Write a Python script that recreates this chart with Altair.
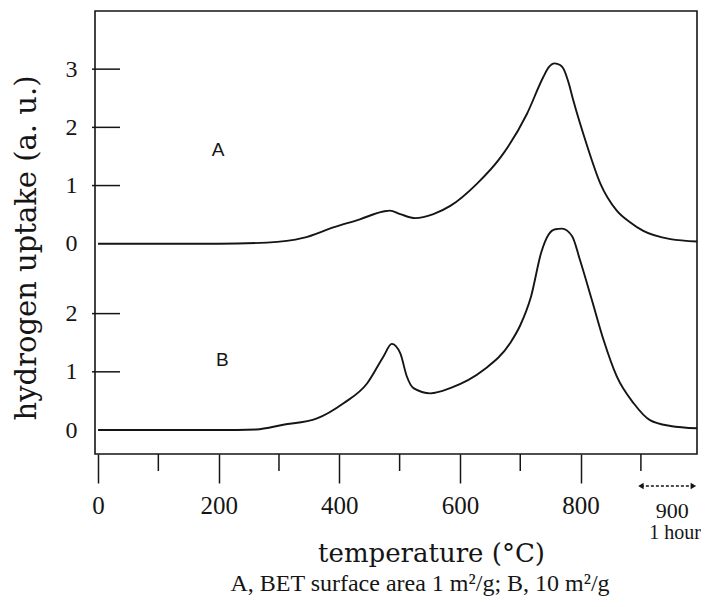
import altair as alt
import pandas as pd

# ---- data ----
temp_A = [0, 100, 200, 280, 340, 390, 434, 473, 484, 501, 526, 556, 584, 628, 667, 711,
          738, 747, 757, 766, 772, 780, 788, 810, 833, 860, 882, 904, 949, 993]
upt_A = [0, 0, 0, 0.02, 0.10, 0.28, 0.42, 0.555, 0.57, 0.51, 0.44, 0.51, 0.65, 1.03, 1.48, 2.23,
         2.86, 3.03, 3.10, 3.07, 3.00, 2.77, 2.46, 1.71, 1.03, 0.57, 0.37, 0.22, 0.08, 0.04]

temp_B = [0, 100, 200, 262, 307, 363, 407, 446, 473, 487, 501, 512, 523, 551, 584, 639, 683,
          700, 718, 735, 747, 758, 769, 786, 799, 818, 838, 860, 888, 915, 949, 993]
upt_B = [0, 0, 0, 0.01, 0.09, 0.20, 0.46, 0.80, 1.26, 1.48, 1.32, 0.92, 0.72, 0.63, 0.72, 1.03, 1.49,
         1.80, 2.30, 3.06, 3.36, 3.45, 3.46, 3.33, 2.92, 2.26, 1.55, 0.92, 0.46, 0.17, 0.07, 0.03]

OFFSET_A = 3.2          # vertical shift of trace A (in uptake units)
ticks_A = [0, 1, 2, 3]
ticks_B = [0, 1, 2]
inner_ticks_A = [1, 2, 3]
inner_ticks_B = [1, 2]

major_x = [0, 200, 400, 600, 800]
minor_x = [100, 300, 500, 700, 900]
hold_range = [900, 987]  # 1 hour hold at 900 °C

curve_names = ["A", "B"]
name_temp = [199, 206]
name_upt = [1.61, 1.20]

# ---- tables ----
rows = []
for t, v in zip(temp_A, upt_A):
    rows.append({"series": "A", "temp": t, "y": v + OFFSET_A})
for t, v in zip(temp_B, upt_B):
    rows.append({"series": "B", "temp": t, "y": v})
df = pd.DataFrame(rows)

yvals = ticks_B + [v + OFFSET_A for v in ticks_A]
df_inner = pd.DataFrame({"y": inner_ticks_B + [v + OFFSET_A for v in inner_ticks_A]})
df_minor = pd.DataFrame({"temp": minor_x})
df_hold = pd.DataFrame({"temp": [hold_range[0]], "temp2": [hold_range[1]]})
df_heads = pd.DataFrame({"temp": hold_range, "shape": ["triangle-left", "triangle-right"]})
mid = (hold_range[0] + hold_range[1]) / 2
df_900 = pd.DataFrame({"temp": [mid], "label": ["900"]})
df_hour = pd.DataFrame({"temp": [mid], "label": ["1 hour"]})
df_names = pd.DataFrame({
    "name": curve_names,
    "temp": name_temp,
    "y": [name_upt[0] + OFFSET_A, name_upt[1]],
})

W, H = 602, 443
INK = "#151515"
xscale = alt.Scale(domain=[-5, 993], nice=False, zero=False)
yscale = alt.Scale(domain=[-0.412, 7.199], nice=False, zero=False)

label_expr = (f"datum.value > {OFFSET_A - 0.5} ? format(datum.value - {OFFSET_A}, 'd')"
              f" : format(datum.value, 'd')")

X = alt.X("temp:Q", scale=xscale,
          axis=alt.Axis(values=major_x, title="temperature (°C)", grid=False, domain=False,
                        tickSize=29, tickWidth=1.5, tickColor=INK,
                        labelFont="Liberation Serif", labelFontSize=25, labelColor=INK,
                        labelPadding=10, labelFlush=False, labelAngle=0,
                        titleFont="DejaVu Serif", titleFontSize=26, titleFontWeight="normal",
                        titleColor=INK, titleX=336, titleY=107, titleAlign="center",
                        titleBaseline="alphabetic"))
Y = alt.Y("y:Q", scale=yscale,
          axis=alt.Axis(values=yvals, labelExpr=label_expr, title="hydrogen uptake (a. u.)",
                        grid=False, domain=False, ticks=False, labelPadding=18,
                        labelFont="Liberation Serif", labelFontSize=24, labelColor=INK,
                        labelBaseline="middle",
                        titleFont="DejaVu Serif", titleFontSize=29, titleFontWeight="normal",
                        titleColor=INK, titleAngle=270, titleX=-60, titleY=236.5,
                        titleAlign="center", titleBaseline="alphabetic"))
Xp = alt.X("temp:Q", scale=xscale)
Yp = alt.Y("y:Q", scale=yscale)

curves = alt.Chart(df).mark_line(color=INK, strokeWidth=1.9, interpolate="monotone").encode(
    x=X, y=Y, detail="series:N",
)

inner = alt.Chart(df_inner).mark_rule(color=INK, strokeWidth=1.5).encode(
    y=Yp, x=alt.value(-3), x2=alt.value(25),
)

minor = alt.Chart(df_minor).mark_rule(color=INK, strokeWidth=1.5).encode(
    x=Xp, y=alt.value(H), y2=alt.value(H + 17),
)

hold = alt.Chart(df_hold).mark_rule(color=INK, strokeWidth=1.4, strokeDash=[3, 2]).encode(
    x=Xp, x2="temp2:Q", y=alt.value(H + 32),
)

heads = alt.Chart(df_heads).mark_point(filled=True, color=INK, size=40, opacity=1).encode(
    x=Xp, y=alt.value(H + 32),
    shape=alt.Shape("shape:N", scale=None),
)

t900 = alt.Chart(df_900).mark_text(font="Liberation Serif", fontSize=22, color=INK,
                                   align="center", baseline="alphabetic", dx=5).encode(
    x=Xp, y=alt.value(507), text="label:N")

thour = alt.Chart(df_hour).mark_text(font="Liberation Serif", fontSize=20, color=INK,
                                     align="center", baseline="alphabetic", dx=8).encode(
    x=Xp, y=alt.value(528), text="label:N")

names = alt.Chart(df_names).mark_text(font="Liberation Sans", fontSize=19, color=INK,
                                      align="center", baseline="middle").encode(
    x=Xp, y=Yp, text="name:N",
)

chart = alt.layer(curves, inner, minor, hold, heads, t900, thour, names).properties(
    width=W, height=H,
    autosize=alt.AutoSizeParams(type="none"),
    padding={"left": 87, "top": 3, "right": 4, "bottom": 145},
    title=alt.TitleParams(text="A, BET surface area 1 m²/g; B, 10 m²/g", orient="bottom",
                          font="Liberation Serif", fontSize=24, fontWeight="normal",
                          color=INK, anchor="middle", dx=24, offset=6),
).configure(background="white").configure_view(stroke=INK, strokeWidth=1.6)

chart.save("out.html", embed_options={"renderer": "svg", "actions": False})
